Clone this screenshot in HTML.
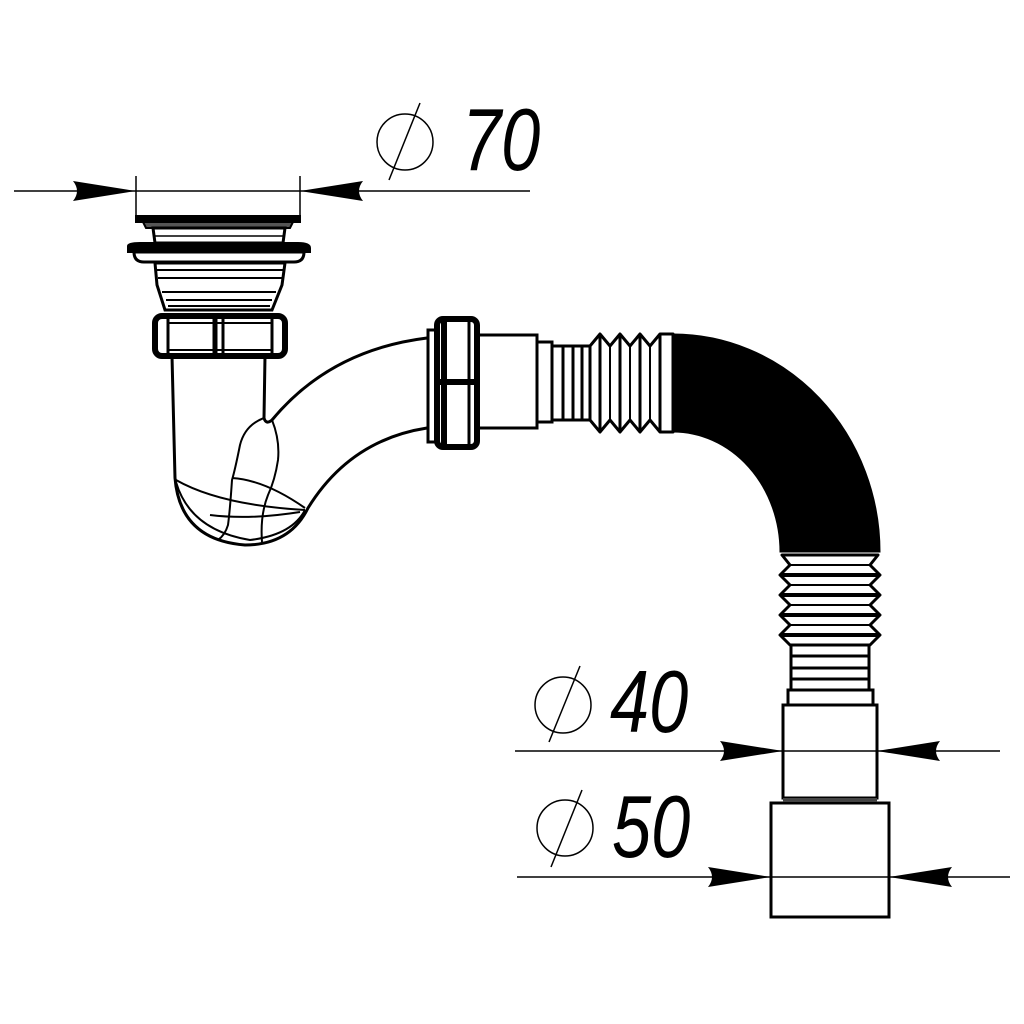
<!DOCTYPE html>
<html><head><meta charset="utf-8"><style>
html,body{margin:0;padding:0;background:#fff}
svg{display:block}
.t{font-family:"Liberation Sans",sans-serif;font-style:italic;font-size:88px;fill:#000}
</style></head><body>
<svg width="1024" height="1024" viewBox="0 0 1024 1024" xmlns="http://www.w3.org/2000/svg">
<defs>
<path id="ar" d="M0,0 L-63,-10 Q-55,0 -63,10 Z" fill="#000"/>
</defs>
<g stroke="#000" fill="none">
<!-- top dimension -->
<line x1="14" y1="191" x2="530" y2="191" stroke-width="1.5"/>
<line x1="136" y1="176" x2="136" y2="218" stroke-width="1.5"/>
<line x1="300" y1="176" x2="300" y2="218" stroke-width="1.5"/>
<use href="#ar" transform="translate(136,191)" stroke="none"/>
<use href="#ar" transform="translate(300,191) scale(-1,1)" stroke="none"/>
<circle cx="405" cy="142" r="28" stroke-width="1.5"/>
<line x1="420" y1="103" x2="389" y2="180" stroke-width="1.5"/>
<!-- drain -->
<rect x="136" y="216" width="164" height="6" fill="#000" stroke-width="2"/>
<path d="M143,222 L293,222 L290,228 L146,228Z" fill="#555" stroke-width="2"/>
<path d="M153,228 L285,228 L283,243 L155,243Z" stroke-width="3"/>
<line x1="155" y1="236" x2="283" y2="236" stroke-width="1.5"/>
<path d="M128,246 Q128,243 140,243 L298,243 Q310,243 310,248 L310,252 L128,252Z" fill="#000" stroke-width="2"/>
<path d="M134,252 L304,252 Q304,262 294,262 L144,262 Q134,262 134,252Z" stroke-width="3"/>
<path d="M155,263 L285,263 L282,285 L272,310 L165,310 L157,285Z" stroke-width="3"/>
<line x1="156" y1="270" x2="284" y2="270" stroke-width="2"/>
<line x1="158" y1="278" x2="282" y2="278" stroke-width="2"/>
<line x1="162" y1="292" x2="276" y2="292" stroke-width="2"/>
<line x1="166" y1="300" x2="272" y2="300" stroke-width="2"/>
<line x1="168" y1="306" x2="270" y2="306" stroke-width="2"/>
<rect x="155" y="316" width="130" height="40" rx="7" stroke-width="6"/>
<line x1="168" y1="318" x2="168" y2="354" stroke-width="3"/>
<line x1="272" y1="318" x2="272" y2="354" stroke-width="3"/>
<line x1="215" y1="318" x2="215" y2="354" stroke-width="5"/>
<line x1="223" y1="318" x2="223" y2="354" stroke-width="3"/>
<line x1="168" y1="323" x2="272" y2="323" stroke-width="2"/>
<line x1="168" y1="350" x2="272" y2="350" stroke-width="2"/>
<!-- trap -->
<path d="M172,356 L175,478 Q180,540 245,545 Q290,545 308,508 Q350,440 427,428" stroke-width="3"/>
<path d="M265,356 L264,418 Q266,425 272,420 Q330,350 427,338" stroke-width="3"/>
<path d="M176,482 Q190,530 250,540 Q292,535 305,510" stroke-width="2"/>
<path d="M176,480 Q220,505 305,510" stroke-width="2"/>
<path d="M264,418 Q245,425 240,445 Q235,470 232,480 Q230,510 228,525 Q225,535 218,540" stroke-width="2"/>
<path d="M272,420 Q280,440 278,460 Q275,480 268,495 Q260,515 262,542" stroke-width="2"/>
<path d="M232,478 Q265,480 305,508" stroke-width="2"/>
<path d="M210,515 Q250,520 300,512" stroke-width="2"/>
<!-- nut -->
<rect x="428" y="330" width="10" height="112" stroke-width="3"/>
<rect x="437" y="319" width="40" height="128" rx="6" stroke-width="6"/>
<line x1="444" y1="322" x2="444" y2="444" stroke-width="6"/>
<line x1="469" y1="322" x2="469" y2="444" stroke-width="3"/>
<line x1="440" y1="382" x2="475" y2="382" stroke-width="6"/>
<rect x="478" y="335" width="59" height="93" stroke-width="3"/>
<rect x="537" y="342" width="15" height="80" stroke-width="3"/>
<!-- thin ribs horizontal -->
<rect x="552" y="346" width="38" height="74" stroke-width="3"/>
<line x1="563" y1="346" x2="563" y2="420" stroke-width="3"/>
<line x1="573" y1="346" x2="573" y2="420" stroke-width="3"/>
<line x1="582" y1="346" x2="582" y2="420" stroke-width="3"/>
<!-- zigzag horizontal -->
<path d="M590,346 L600,334 L610,346 L620,334 L630,346 L640,334 L650,346 L660,334 L673,334 L673,432 L660,432 L650,420 L640,432 L630,420 L620,432 L610,420 L600,432 L590,420Z" stroke-width="3" stroke-linejoin="round"/>
<line x1="600" y1="334" x2="600" y2="432" stroke-width="3"/>
<line x1="610" y1="346" x2="610" y2="420" stroke-width="2"/>
<line x1="620" y1="334" x2="620" y2="432" stroke-width="3"/>
<line x1="630" y1="346" x2="630" y2="420" stroke-width="2"/>
<line x1="640" y1="334" x2="640" y2="432" stroke-width="3"/>
<line x1="650" y1="346" x2="650" y2="420" stroke-width="2"/>
<line x1="660" y1="334" x2="660" y2="432" stroke-width="3"/>
<!-- black bend -->
<path d="M673,334 A207,218 0 0 1 880,552 L780,552 A107,120 0 0 0 673,432 Z" fill="#000" stroke-width="1"/>
<!-- zigzag vertical -->
<path d="M782,555 L878,555 L870,565 L880,575 L870,585 L880,595 L870,605 L880,615 L870,625 L880,635 L870,645 L790,645 L780,635 L790,625 L780,615 L790,605 L780,595 L790,585 L780,575 L790,565Z" stroke-width="3" stroke-linejoin="round"/>
<line x1="782" y1="575" x2="878" y2="575" stroke-width="4"/>
<line x1="782" y1="595" x2="878" y2="595" stroke-width="4"/>
<line x1="782" y1="615" x2="878" y2="615" stroke-width="4"/>
<line x1="782" y1="635" x2="878" y2="635" stroke-width="4"/>
<line x1="790" y1="565" x2="870" y2="565" stroke-width="2"/>
<line x1="790" y1="585" x2="870" y2="585" stroke-width="2"/>
<line x1="790" y1="605" x2="870" y2="605" stroke-width="2"/>
<line x1="790" y1="625" x2="870" y2="625" stroke-width="2"/>
<rect x="791" y="645" width="78" height="45" stroke-width="3"/>
<line x1="791" y1="656" x2="869" y2="656" stroke-width="3"/>
<line x1="791" y1="668" x2="869" y2="668" stroke-width="3"/>
<line x1="791" y1="679" x2="869" y2="679" stroke-width="3"/>
<rect x="788" y="690" width="85" height="15" stroke-width="3"/>
<rect x="783" y="705" width="94" height="93" stroke-width="3"/>
<rect x="771" y="803" width="118" height="114" stroke-width="3"/>
<line x1="783" y1="800" x2="877" y2="800" stroke-width="4" stroke="#444"/>
<!-- dims bottom -->
<line x1="515" y1="751" x2="1000" y2="751" stroke-width="1.5"/>
<use href="#ar" transform="translate(783,751)" stroke="none"/>
<use href="#ar" transform="translate(877,751) scale(-1,1)" stroke="none"/>
<line x1="517" y1="877" x2="1010" y2="877" stroke-width="1.5"/>
<use href="#ar" transform="translate(771,877)" stroke="none"/>
<use href="#ar" transform="translate(889,877) scale(-1,1)" stroke="none"/>
<circle cx="563" cy="705" r="28" stroke-width="1.5"/>
<line x1="580" y1="666" x2="549" y2="742" stroke-width="1.5"/>
<circle cx="565" cy="828" r="28" stroke-width="1.5"/>
<line x1="582" y1="790" x2="551" y2="867" stroke-width="1.5"/>
</g>
<text class="t" transform="translate(462,170) scale(0.8,1)">70</text>
<text class="t" transform="translate(610,732) scale(0.8,1)">40</text>
<text class="t" transform="translate(612,857) scale(0.8,1)">50</text>
</svg>
</body></html>
